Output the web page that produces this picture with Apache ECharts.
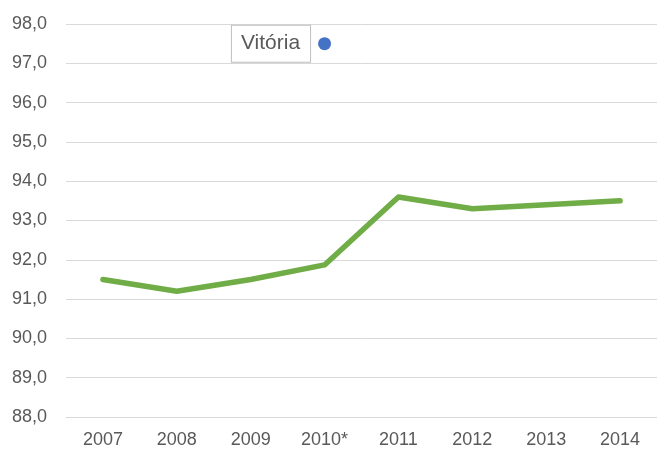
<!DOCTYPE html>
<html>
<head>
<meta charset="utf-8">
<script src="https://cdn.jsdelivr.net/npm/echarts@6/dist/echarts.min.js"></script>
<style>
  html, body { margin: 0; padding: 0; background: #fff; }
  #chart { width: 657px; height: 453px; }
</style>
</head>
<body>
<div id="chart"></div>
<script>
// data
const years = ['2007', '2008', '2009', '2010*', '2011', '2012', '2013', '2014']
const values = [91.5, 91.2, 91.5, 91.87, 93.6, 93.3, 93.4, 93.5]
const markerPoint = ['2010*', 97.5]
const markerName = 'Vitória'

const chart = echarts.init(document.getElementById('chart'), null, { renderer: 'canvas' })

const labelFont = 'Liberation Sans, Open Sans, sans-serif'

chart.setOption({
  animation: false,
  grid: { left: 66, right: 0, top: 24, bottom: 36 },
  xAxis: {
    type: 'category',
    data: years,
    boundaryGap: true,
    axisLine: { lineStyle: { color: '#d9d9d9', width: 1 } },
    axisTick: { show: false },
    axisLabel: { color: '#595959', fontSize: 18, margin: 14, fontFamily: labelFont },
  },
  yAxis: {
    type: 'value',
    min: 88,
    max: 98,
    interval: 1,
    axisLine: { show: false },
    axisTick: { show: false },
    splitLine: { lineStyle: { color: '#d9d9d9', width: 1 } },
    axisLabel: {
      color: '#595959',
      fontSize: 18,
      margin: 19,
      fontFamily: labelFont,
      formatter: (v) => v.toFixed(1).replace('.', ','),
    },
  },
  series: [
    {
      type: 'line',
      data: values,
      symbol: 'none',
      lineStyle: { color: '#70ad47', width: 5.5, cap: 'round', join: 'round' },
    },
    {
      type: 'scatter',
      data: [markerPoint],
      symbolSize: 13,
      itemStyle: { color: '#4472c4', opacity: 1 },
      label: {
        show: true,
        position: 'left',
        distance: 8,
        formatter: markerName,
        color: '#595959',
        fontSize: 21,
        fontFamily: labelFont,
        backgroundColor: '#fff',
        borderColor: '#bfbfbf',
        borderWidth: 1,
        padding: [8, 10, 7, 9],
      },
    },
  ],
})
</script>
</body>
</html>
